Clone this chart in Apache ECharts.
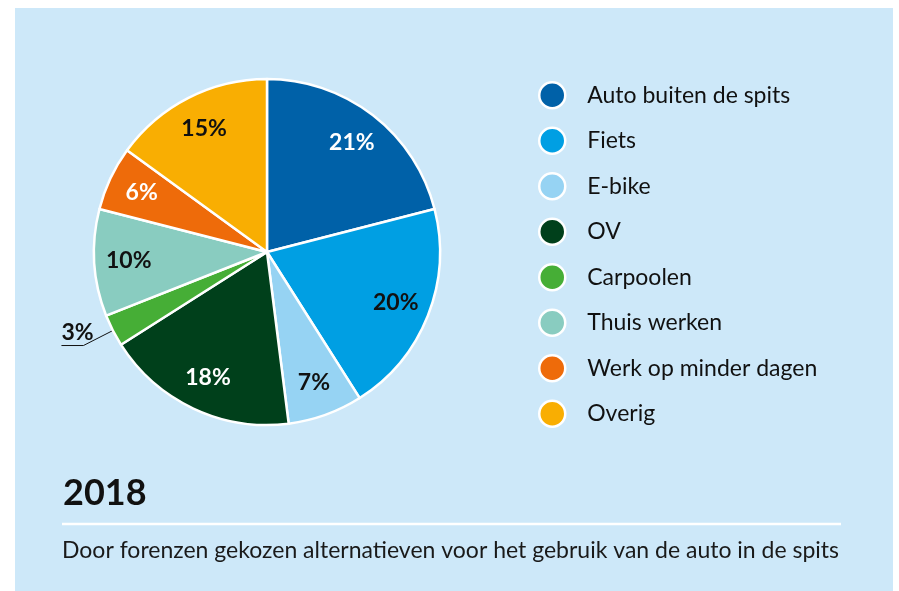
<!DOCTYPE html>
<html>
<head>
<meta charset="utf-8">
<script src="https://cdn.jsdelivr.net/npm/echarts@6/dist/echarts.min.js"></script>
<style>
  html, body { margin: 0; padding: 0; background: #fff; }
  #chart { width: 899px; height: 591px; }
</style>
</head>
<body>
<div id="chart"></div>
<script>
// data
var categories = ['Auto buiten de spits', 'Fiets', 'E-bike', 'OV', 'Carpoolen', 'Thuis werken', 'Werk op minder dagen', 'Overig'];
var values = [21, 20, 7, 18, 3, 10, 6, 15];
var colors = ['#0061a8', '#009fe3', '#96d3f3', '#00401b', '#46ae36', '#89ccc0', '#ee6b0a', '#f9ae02'];
var labelColors = ['#fff', '#111', '#111', '#fff', '#111', '#111', '#fff', '#111'];
var year = '2018';
var subtitle = 'Door forenzen gekozen alternatieven voor het gebruik van de auto in de spits';

var chart = echarts.init(document.getElementById('chart'));

var pieData = categories.map(function (name, i) {
    return { name: name, value: values[i], itemStyle: { color: colors[i] } };
});

// label-only ring, so the percentages sit further out than the middle of the radius
var labelData = categories.map(function (name, i) {
    var item = {
        name: name,
        value: values[i],
        label: { color: labelColors[i] }
    };
    if (i === 4) {
        item.label = {
            position: 'outside',
            color: '#111'
        };
        item.labelLine = {
            show: true,
            length: 33,
            length2: 22,
            lineStyle: { color: '#111', width: 1 }
        };
    }
    return item;
});

var option = {
    animation: false,
    graphic: [
        {
            type: 'rect',
            z: -10,
            shape: { x: 15, y: 8, width: 878, height: 583 },
            style: { fill: '#cde8f9' }
        },
        {
            type: 'line',
            shape: { x1: 62, y1: 524, x2: 841, y2: 524 },
            style: { stroke: '#fff', lineWidth: 2.5 }
        }
    ],
    title: [
        {
            text: year,
            left: 58,
            top: 470,
            textStyle: { fontFamily: 'Lato', fontSize: 36, fontWeight: 'bold', color: '#111' }
        },
        {
            text: subtitle,
            left: 57,
            top: 534,
            textStyle: { fontFamily: 'Lato', fontSize: 23, fontWeight: 'normal', color: '#1a1a1a' }
        }
    ],
    legend: {
        orient: 'vertical',
        left: 533,
        top: 76,
        itemWidth: 26,
        itemHeight: 26,
        itemGap: 17,
        icon: 'circle',
        data: categories,
        selectedMode: false,
        itemStyle: { borderColor: '#fff', borderWidth: 2.5 },
        textStyle: {
            fontFamily: 'Lato',
            fontSize: 23,
            lineHeight: 26,
            color: '#111',
            padding: [0, 0, 0, 17]
        }
    },
    series: [
        {
            type: 'pie',
            center: [267, 252],
            radius: [0, 173],
            startAngle: 90,
            clockwise: true,
            label: { show: false },
            labelLine: { show: false },
            itemStyle: { borderColor: '#fff', borderWidth: 2.5 },
            data: pieData
        },
        {
            type: 'pie',
            center: [267, 252],
            radius: [98, 173],
            startAngle: 90,
            clockwise: true,
            silent: true,
            itemStyle: { color: 'transparent', borderWidth: 0 },
            label: {
                show: true,
                position: 'inside',
                formatter: '{c}%',
                fontFamily: 'Lato',
                fontSize: 23,
                fontWeight: 'bold'
            },
            labelLine: { show: false },
            labelLayout: function (p) {
                if (p.dataIndex !== 4 || !p.labelLinePoints) return {};
                var pts = p.labelLinePoints;
                return {
                    x: pts[2][0],
                    y: pts[2][1] - 13,
                    align: 'left',
                    verticalAlign: 'middle',
                    labelLinePoints: pts
                };
            },
            data: labelData
        }
    ]
};

chart.setOption(option);
</script>
</body>
</html>
